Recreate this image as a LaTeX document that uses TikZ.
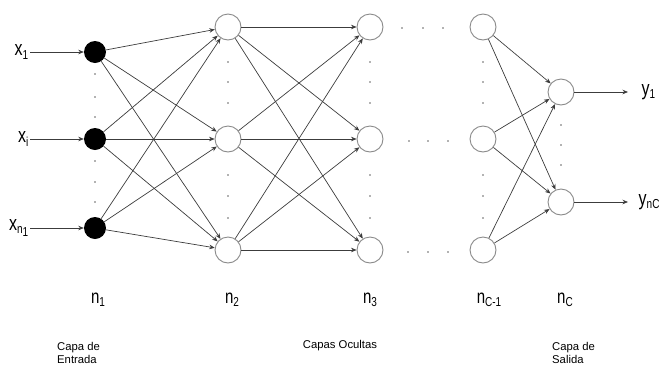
\documentclass[tikz,border=0pt]{standalone}
\usepackage{fontspec}
\setmainfont{Liberation Sans}
\usetikzlibrary{arrows.meta, positioning}
\definecolor{edgegray}{HTML}{3C3C3C}
\definecolor{ringgray}{HTML}{8A8A8A}
\newcommand{\tall}[1]{\scalebox{1}[1.3]{#1}}
\newcommand{\low}[1]{\raisebox{-2.5pt}{\fontsize{10}{10}\selectfont #1}}
\tikzset{
  inp/.style={circle, fill=black, minimum size=22pt, inner sep=0pt},
  neuron/.style={circle, draw=ringgray, line width=0.9pt, fill=white, minimum size=26pt, inner sep=0pt},
  var/.style={inner sep=0.5pt, font=\fontsize{16}{16}\selectfont},
  layer/.style={inner sep=0pt, font=\fontsize{15}{15}\selectfont},
  caption/.style={inner sep=0pt, align=left, font=\fontsize{11.3}{13}\selectfont},
  arrow/.style={-{Stealth[length=5.5pt, width=4.5pt]}, draw=edgegray, line width=0.7pt},
  pt/.style={fill=gray!80!black, radius=0.85pt},
}

\begin{document}
\begin{tikzpicture}[x=1pt, y=-1pt]
\useasboundingbox (0,0) rectangle (664,365);
% input layer
\node[inp] (i1) at (95,52) {};
\node[inp] (i2) at (95,139) {};
\node[inp] (i3) at (95,228) {};
% hidden layers
\node[neuron] (a1) at (228,27) {};
\node[neuron] (a2) at (228,139) {};
\node[neuron] (a3) at (228,250) {};
\node[neuron] (b1) at (370,27) {};
\node[neuron] (b2) at (370,139) {};
\node[neuron] (b3) at (370,250) {};
\node[neuron] (c1) at (483,27) {};
\node[neuron] (c2) at (483,139) {};
\node[neuron] (c3) at (483,250) {};
% output layer
\node[neuron] (o1) at (561,92) {};
\node[neuron] (o2) at (561,202) {};

% inputs and outputs
\coordinate (s1) at (30,52); \coordinate (s2) at (30,139); \coordinate (s3) at (30,228);
\node[var, left=1pt of s1] (x1) {\tall{x\low{1}}};
\node[var, left=1pt of s2] (x2) {\tall{x\low{i}}};
\node[var, left=1pt of s3] (x3) {\tall{x\low{n\low{1}}}};
\coordinate (e1) at (628,92); \coordinate (e2) at (628,202);
\node[var, right=13pt of e1] (y1) {\tall{y\low{1}}};
\node[var, right=10pt of e2] (y2) {\tall{y\low{nC}}};
\draw[arrow](s1)--(i1); \draw[arrow](s2)--(i2); \draw[arrow](s3)--(i3);
\draw[arrow](o1)--(e1); \draw[arrow](o2)--(e2);

% connections
\foreach \p in {1,2,3}{
  \foreach \q in {1,2,3}{
    \draw[arrow](i\p)--(a\q);
    \draw[arrow](a\p)--(b\q);
  }
  \draw[arrow](c\p)--(o1); \draw[arrow](c\p)--(o2);
}

% dots
\foreach \u in {74,97,117,161,182,202} \fill[pt] (95,\u) circle;
\foreach \u in {62,82,103,175,196,218}{
  \fill[pt] (228,\u) circle; \fill[pt] (370,\u) circle; \fill[pt] (483,\u) circle;
}
\foreach \u in {125,145,165} \fill[pt] (561,\u) circle;
\foreach \u in {402,423,443} \fill[pt] (\u,28) circle;
\foreach \u in {409,428,448} \fill[pt] (\u,141) circle;
\foreach \u in {408,428,448} \fill[pt] (\u,252) circle;

% layer sizes
\node[layer] (n1) at (98,300) {\tall{n\low{1}}};
\node[layer] (n2) at (232,300) {\tall{n\low{2}}};
\node[layer] (n3) at (370,300) {\tall{n\low{3}}};
\node[layer] (n4) at (489,300) {\tall{n\low{C-1}}};
\node[layer] (n5) at (565,300) {\tall{n\low{C}}};

% captions
\node[caption, anchor=west] (cin) at (57,353) {Capa de\\Entrada};
\node[caption] (chid) at (340,346) {Capas Ocultas};
\node[caption, anchor=west] (cout) at (552,353) {Capa de\\Salida};
\end{tikzpicture}
\end{document}
